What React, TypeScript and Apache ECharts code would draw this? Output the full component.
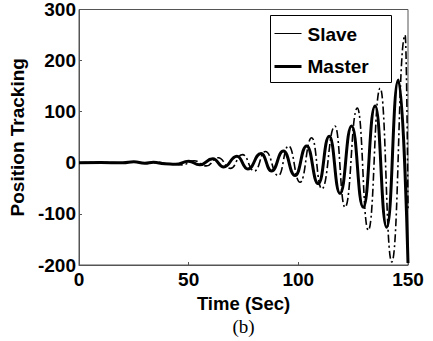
import React, { useEffect, useRef } from "react";
import * as echarts from "echarts";

// Time stamps (s) and values (extrema of the oscillations)
const masterTime = [0, 10, 20, 25, 30, 34, 39, 44, 50, 55, 61, 66, 72, 77, 83, 87.8, 93.2, 98.5, 103.8, 109.1, 114.1, 119, 124.3, 129.6, 135, 140.3, 145.6, 150];
const masterValue = [0, 0.5, 0, 2, -1, 1, -2, -3, 3, -4, 8, -8, 13, -12, 18, -16, 23, -25, 33, -41, 52, -60, 72, -87, 111, -126, 162, -196];

const slaveTime = [0, 10, 20, 26, 31, 36, 41, 47, 52.5, 58, 63.5, 69, 74.5, 80, 85, 90.9, 95.5, 100.8, 106.1, 110.7, 116.7, 121.3, 126.9, 131.9, 137.3, 142.6, 148.7, 150];
const slaveValue = [0, 0.5, 0, 2, -1, 1, -2, -4, 4, -6, 10, -11, 16, -16, 22, -25, 33, -38, 49, -51, 72, -87, 107, -132, 146, -194, 250, -90];

const xTicks = { min: 0, max: 150, interval: 50 };
const yTicks = { min: -200, max: 300, interval: 100 };
const legendNames = ["Slave", "Master"];

const FONT = "'Liberation Sans', Arial, sans-serif";

export default function App() {
  const ref = useRef<HTMLDivElement>(null);
  useEffect(() => {
    if (!ref.current) return;
    const chart = echarts.init(ref.current, undefined, { renderer: "svg" });
    const pair = (t: number[], v: number[]) => t.map((x, i) => [x, v[i]]);
    const axisLabel = { color: "#000", fontFamily: FONT, fontWeight: "bold" as const, fontSize: 19 };
    chart.setOption({
      animation: false,
      backgroundColor: "#fff",
      grid: { left: 79, right: 25, top: 8, bottom: 76, show: true, borderColor: "#555", borderWidth: 1, backgroundColor: "transparent" },
      xAxis: {
        type: "value",
        min: xTicks.min,
        max: xTicks.max,
        interval: xTicks.interval,
        name: "Time (Sec)",
        nameLocation: "middle",
        nameGap: 24,
        nameTextStyle: { color: "#000", fontFamily: FONT, fontWeight: "bold", fontSize: 18.5 },
        axisLine: { show: true, onZero: false, lineStyle: { color: "#555", width: 1 } },
        axisTick: { show: true, inside: true, length: 3, lineStyle: { color: "#555" } },
        axisLabel: { ...axisLabel, margin: 5 },
        splitLine: { show: false },
      },
      yAxis: {
        type: "value",
        min: yTicks.min,
        max: yTicks.max,
        interval: yTicks.interval,
        name: "Position Tracking",
        nameLocation: "middle",
        nameGap: 46,
        nameTextStyle: { color: "#000", fontFamily: FONT, fontWeight: "bold", fontSize: 19 },
        axisLine: { show: true, onZero: false, lineStyle: { color: "#555", width: 1 } },
        axisTick: { show: true, inside: true, length: 3, lineStyle: { color: "#555" } },
        axisLabel: { ...axisLabel, margin: 3 },
        splitLine: { show: false },
      },
      series: [
        {
          name: legendNames[0],
          type: "line",
          data: pair(slaveTime, slaveValue),
          showSymbol: false,
          symbol: "none",
          smooth: 0.5,
          smoothMonotone: "x",
          clip: true,
          lineStyle: { color: "#000", width: 1.6, type: [8, 3, 2, 3] },
        },
        {
          name: legendNames[1],
          type: "line",
          data: pair(masterTime, masterValue),
          showSymbol: false,
          symbol: "none",
          smooth: 0.5,
          smoothMonotone: "x",
          clip: true,
          lineStyle: { color: "#000", width: 3 },
        },
      ],
      graphic: [
        {
          type: "group",
          left: 270,
          top: 15,
          children: [
            { type: "rect", shape: { x: 0, y: 0, width: 121, height: 67 }, style: { fill: "#fff", stroke: "#000", lineWidth: 1 } },
            { type: "line", shape: { x1: 4, y1: 18, x2: 31, y2: 18 }, style: { stroke: "#000", lineWidth: 1 } },
            { type: "line", shape: { x1: 4, y1: 51, x2: 31, y2: 51 }, style: { stroke: "#000", lineWidth: 3 } },
            { type: "text", x: 37, y: 19, style: { text: legendNames[0], fill: "#000", font: `bold 19px ${FONT}`, verticalAlign: "middle" } },
            { type: "text", x: 37, y: 51, style: { text: legendNames[1], fill: "#000", font: `bold 19px ${FONT}`, verticalAlign: "middle" } },
          ],
        },
        {
          type: "text",
          x: 243.5,
          y: 326,
          style: { text: "(b)", fill: "#000", font: "19px 'Liberation Serif', 'Times New Roman', serif", align: "center", verticalAlign: "middle" },
        },
      ],
    });
    return () => chart.dispose();
  }, []);
  return <div ref={ref} style={{ width: 433, height: 341, position: "absolute", left: 0, top: 0 }} />;
}
